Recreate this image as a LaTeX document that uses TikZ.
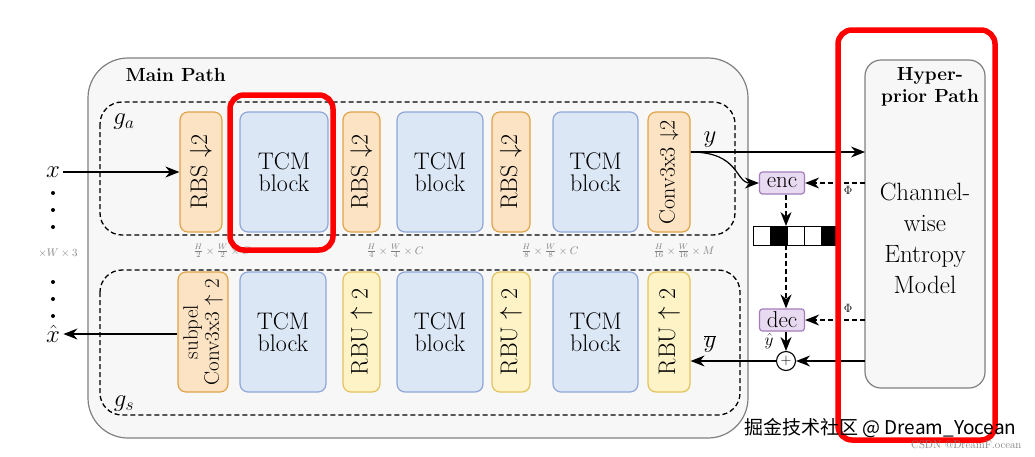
\documentclass[tikz,border=0pt]{standalone}
\usepackage{fontspec}
\newfontfamily\cjk{Noto Sans CJK SC}
\usetikzlibrary{arrows.meta}
\definecolor{org}{HTML}{FBE3C4}\definecolor{orgd}{HTML}{E0A448}
\definecolor{blu}{HTML}{DCE7F6}\definecolor{blud}{HTML}{8FA8D8}
\definecolor{yel}{HTML}{FDF3C6}\definecolor{yeld}{HTML}{E2C25E}
\definecolor{pur}{HTML}{E8DAF0}\definecolor{purd}{HTML}{A47EBC}
\tikzset{x=1pt,y=-1pt,
 blk/.style={rounded corners=8pt,line width=1.2pt},
 ob/.style={blk,fill=org,draw=orgd},
 bb/.style={blk,fill=blu,draw=blud},
 yb/.style={blk,fill=yel,draw=yeld},
 pb/.style={rounded corners=3pt,line width=1.2pt,fill=pur,draw=purd,minimum width=45pt,minimum height=22pt,inner sep=0pt,font=\fontsize{23}{23}\selectfont},
 dsh/.style={dash pattern=on 5pt off 3pt,line width=1.3pt,rounded corners=22pt},
 ar/.style={-{Stealth[length=14pt,width=11pt]},line width=1.2pt},
 dar/.style={ar,dash pattern=on 5pt off 3pt},
 lab/.style={font=\fontsize{24}{26}\selectfont,align=center},
 dim/.style={font=\fontsize{11}{12}\selectfont,text=gray,inner sep=0pt},
 redb/.style={draw=red,line width=5.5pt,rounded corners=14pt}}
\begin{document}
\begin{tikzpicture}
\useasboundingbox (0,0) rectangle (1035,456);
\fill[white] (0,0) rectangle (1035,456);
% main path
\draw[gray,fill=black!3,line width=1.2pt,rounded corners=40pt] (88,58) rectangle (748,438);
\node[font=\bfseries\fontsize{19}{19}\selectfont,anchor=west] (mp) at (122,75) {Main Path};
\draw[dsh] (100,102) rectangle (735,235);
\draw[dsh] (100,270) rectangle (740,415);
\node[font=\fontsize{23}{23}\selectfont] (ga) at (124,122) {$g_a$};
\node[font=\fontsize{23}{23}\selectfont] (gs) at (124,404) {$g_s$};
% top row
\node[ob,minimum width=42pt,minimum height=120pt] (r1) at (201,172) {};
\node[rotate=90,lab] at (r1) {RBS $\downarrow$2};
\node[bb,minimum width=88pt,minimum height=120pt,lab] (t1) at (284,172) {TCM\\[-4pt]block};
\node[ob,minimum width=37pt,minimum height=120pt] (r2) at (361.5,172) {};
\node[rotate=90,lab] at (r2) {RBS $\downarrow$2};
\node[bb,minimum width=86pt,minimum height=120pt,lab] (t2) at (440,172) {TCM\\[-4pt]block};
\node[ob,minimum width=38pt,minimum height=120pt] (r3) at (511,172) {};
\node[rotate=90,lab] at (r3) {RBS $\downarrow$2};
\node[bb,minimum width=85pt,minimum height=120pt,lab] (t3) at (595.5,172) {TCM\\[-4pt]block};
\node[ob,minimum width=42pt,minimum height=120pt] (cv) at (669,172) {};
\node[rotate=90,lab,font=\fontsize{22}{24}\selectfont] at (cv) {Conv3x3 $\downarrow$2};
% bottom row
\node[ob,minimum width=50pt,minimum height=120pt] (sp) at (203,332) {};
\node[rotate=90,lab,font=\fontsize{21}{21}\selectfont] at (sp) {subpel\\Conv3x3 $\uparrow$ 2};
\node[bb,minimum width=86pt,minimum height=120pt,lab] (b1) at (283,332) {TCM\\[-4pt]block};
\node[yb,minimum width=37pt,minimum height=120pt] (u1) at (361.5,332) {};
\node[rotate=90,lab] at (u1) {RBU $\uparrow$ 2};
\node[bb,minimum width=86pt,minimum height=120pt,lab] (b2) at (440,332) {TCM\\[-4pt]block};
\node[yb,minimum width=38pt,minimum height=120pt] (u2) at (511,332) {};
\node[rotate=90,lab] at (u2) {RBU $\uparrow$ 2};
\node[bb,minimum width=85pt,minimum height=120pt,lab] (b3) at (595.5,332) {TCM\\[-4pt]block};
\node[yb,minimum width=42pt,minimum height=120pt] (u3) at (669,332) {};
\node[rotate=90,lab] at (u3) {RBU $\uparrow$ 2};
% dims
\node[dim] at (222,251) {$\frac{H}{2}\times\frac{W}{2}\times C$};
\node[dim] at (395,251) {$\frac{H}{4}\times\frac{W}{4}\times C$};
\node[dim] at (550,251) {$\frac{H}{8}\times\frac{W}{8}\times C$};
\node[dim] at (684,251) {$\frac{H}{16}\times\frac{W}{16}\times M$};
\node[dim] at (58,253) {$\times W\times 3$};
% inputs
\node[font=\fontsize{26}{26}\selectfont] (x) at (53,172) {$x$};
\node[font=\fontsize{26}{26}\selectfont] (xh) at (53,334) {$\hat{x}$};
\draw[ar] (x) -- (r1);
\draw[ar] (sp.west|-xh) -- (xh);
\foreach \yy in {193,210,227,282,299,316}{\fill (53,\yy) circle (2pt);}
% hyperprior
\draw[gray,fill=black!3,line width=1.2pt,rounded corners=16pt] (865,60) rectangle (985,388);
\node[font=\bfseries\fontsize{19}{22}\selectfont,align=center] at (930,87) {Hyper-\\prior Path};
\node[font=\fontsize{25}{31}\selectfont,align=center] (cem) at (925,238) {Channel-\\wise\\Entropy\\Model};
\coordinate (hy) at (865,152);
\coordinate (he) at (865,183);
\coordinate (hd) at (865,320);
\coordinate (hp) at (865,361);
% y path
\node[font=\fontsize{23}{23}\selectfont] at (710,140) {$y$};
\draw[ar] (cv.east|-0,152) -- (hy);
\node[pb] (enc) at (782,183) {enc};
\node[pb] (dec) at (782,320) {dec};
\draw[ar] (cv.east|-0,152) .. controls (740,152) and (735,183) .. (enc.west);
\draw[dar] (he) -- (enc.east);
\draw[dar] (hd) -- (dec.east);
\node[font=\fontsize{13}{13}\selectfont] at (848,190) {$\Phi$};
\node[font=\fontsize{13}{13}\selectfont] at (848,308) {$\Phi$};
% bar
\foreach \i/\c in {0/white,1/black,2/white,3/white,4/black}{
 \draw[fill=\c,line width=1pt] (753+\i*17,226) rectangle (770+\i*17,245);}
\coordinate (bt) at (786,226);
\coordinate (bb) at (786,245);
\draw[dar] (enc.south-|bt) -- (bt);
\draw[dar] (bb) -- (dec.north-|bb);
\node[draw,circle,line width=1.1pt,inner sep=0pt,minimum size=19pt,font=\Large] (pl) at (786,361) {$+$};
\draw[ar] (dec.south-|pl) -- (pl);
\node[font=\fontsize{17}{17}\selectfont] at (769,341) {$\hat{y}$};
\draw[ar] (hp) -- (pl);
\draw[ar] (pl) -- (u3.east|-pl);
\node[font=\fontsize{23}{23}\selectfont] at (710,344) {$\overline{y}$};
% red highlights
\draw[redb] (230,95) rectangle (333,250);
\draw[redb] (838,30) rectangle (995,440);
% watermark
\node[font=\cjk\fontsize{19}{19}\selectfont,anchor=east] at (1020,428) {掘金技术社区 @ Dream\_Yocean};
\node[font=\fontsize{11}{11}\selectfont,text=gray,anchor=east] at (1025,445) {CSDN @DreamF.ocean};
\end{tikzpicture}
\end{document}
